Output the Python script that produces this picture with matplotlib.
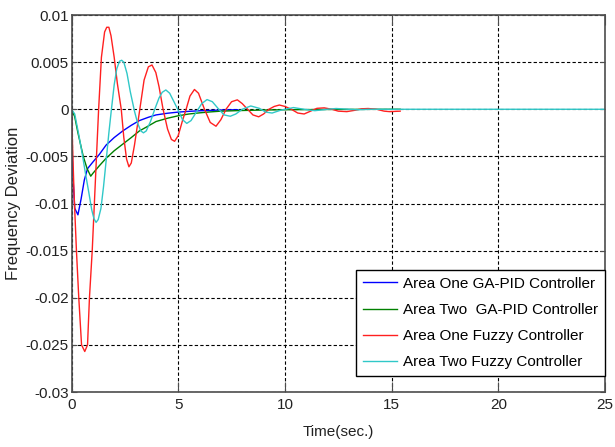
import matplotlib
matplotlib.use("Agg")
import matplotlib.pyplot as plt

plt.rcParams['font.family'] = ['Liberation Sans', 'DejaVu Sans']

# Area One GA-PID controller (blue)
a1_pid_t = [0, 0.05, 0.15, 0.3, 0.45, 0.6, 0.75, 1.0, 1.3, 1.62, 2.0, 2.4, 2.8, 3.18,
            3.6, 3.96, 4.5, 5.0, 5.5, 6.0, 6.5, 7.0, 7.8]
a1_pid_y = [0, -0.0065, -0.0105, -0.0112, -0.0095, -0.0075, -0.0063, -0.0056, -0.0048,
            -0.0038, -0.003, -0.0023, -0.0017, -0.0012, -0.00085, -0.0006, -0.00042,
            -0.0003, -0.00022, -0.00016, -0.00012, -0.00008, -0.00005]

# Area Two GA-PID controller (green)
a2_pid_t = [0, 0.15, 0.3, 0.42, 0.55, 0.73, 0.9, 1.0, 1.3, 1.62, 2.0, 2.4, 2.8, 3.18,
            3.5, 3.96, 4.5, 4.98, 5.5, 6.0, 6.5, 7.0, 8.0, 9.0, 10.0, 12.0, 15.4]
a2_pid_y = [0, -0.0008, -0.0025, -0.0037, -0.005, -0.0063, -0.0071, -0.0068, -0.006,
            -0.0052, -0.0044, -0.0037, -0.003, -0.0023, -0.0019, -0.0013, -0.00095,
            -0.0007, -0.0005, -0.00038, -0.00028, -0.0002, -0.00013, -0.00008,
            -0.00005, -0.00002, 0]

# Area One fuzzy controller (red)
a1_fz_t = [0, 0.05, 0.12, 0.23, 0.34, 0.47, 0.62, 0.75, 0.84, 0.97, 1.1, 1.2, 1.27, 1.4,
           1.55, 1.65, 1.75, 1.85, 2.0, 2.15, 2.33, 2.45, 2.58, 2.69, 2.8, 2.95, 3.2,
           3.4, 3.6, 3.77, 3.95, 4.1, 4.29, 4.5, 4.68, 4.83, 5.0, 5.2, 5.37, 5.55, 5.76,
           5.95, 6.23, 6.5, 6.77, 7.0, 7.24, 7.5, 7.77, 8.0, 8.25, 8.5, 8.77, 9.0, 9.25,
           9.5, 9.74, 10.0, 10.3, 10.6, 10.9, 11.2, 11.5, 11.84, 12.2, 12.5, 12.9, 13.3,
           13.6, 13.9, 14.3, 14.65, 14.9, 15.4]
a1_fz_y = [0, -0.004, -0.009, -0.015, -0.02, -0.025, -0.0257, -0.025, -0.02, -0.015,
           -0.0085, -0.0035, 0, 0.0055, 0.0082, 0.0087, 0.0087, 0.0078, 0.0055, 0.0027,
           0, -0.003, -0.0053, -0.0061, -0.0057, -0.0038, 0, 0.0031, 0.0045, 0.0047,
           0.0039, 0.0024, 0, -0.0021, -0.0032, -0.0034, -0.0028, -0.0012, 0, 0.0014,
           0.0021, 0.0017, 0, -0.0014, -0.0018, -0.0011, 0, 0.0008, 0.001, 0.0006, 0,
           -0.0006, -0.0008, -0.0005, 0, 0.0003, 0.00045, 0.0003, 0, -0.0004, -0.0005,
           -0.0002, 0.0001, 0.00015, 0, -0.0002, -0.00025, -0.0001, 0.00005, 0.00008, 0,
           -0.0002, -0.00025, -0.0002]

# Area Two fuzzy controller (cyan)
a2_fz_t = [0, 0.15, 0.34, 0.5, 0.66, 0.8, 0.95, 1.05, 1.15, 1.25, 1.38, 1.5, 1.62, 1.75,
           1.87, 2.0, 2.12, 2.25, 2.35, 2.45, 2.6, 2.75, 2.95, 3.1, 3.25, 3.37, 3.5, 3.7,
           3.9, 4.1, 4.25, 4.42, 4.6, 4.8, 5.02, 5.2, 5.4, 5.6, 5.85, 6.1, 6.35, 6.6,
           6.9, 7.15, 7.44, 7.7, 8.0, 8.4, 8.8, 9.1, 9.4, 9.8, 10.4, 10.9, 11.4, 12.0,
           12.4, 13.0, 13.4, 14.0, 15.0, 25.0]
a2_fz_y = [0, -0.0005, -0.0027, -0.0047, -0.0069, -0.0087, -0.0107, -0.0116, -0.012,
           -0.0117, -0.0105, -0.0082, -0.0055, -0.0025, 0, 0.0026, 0.0043, 0.0051,
           0.0052, 0.005, 0.0038, 0.0019, -0.0002, -0.0015, -0.0023, -0.0025, -0.0023,
           -0.0013, 0, 0.0012, 0.0018, 0.00205, 0.0017, 0.0008, -0.0002, -0.0011,
           -0.0015, -0.0012, -0.0003, 0.0006, 0.00103, 0.0008, 0, -0.0006, -0.00074,
           -0.0005, 0, 0.00035, 0.0001, -0.0003, -0.0004, -0.0001, 0.00018, 0, -0.00015,
           0, 0.00008, 0, -0.00005, 0, 0, 0]

legend_labels = ["Area One GA-PID Controller", "Area Two  GA-PID Controller",
                 "Area One Fuzzy Controller", "Area Two Fuzzy Controller"]
x_ticks = [0, 5, 10, 15, 20, 25]
y_ticks = [0.01, 0.005, 0, -0.005, -0.01, -0.015, -0.02, -0.025, -0.03]
y_tick_labels = ["0.01", "0.005", "0", "-0.005", "-0.01", "-0.015", "-0.02", "-0.025", "-0.03"]

fig = plt.figure(figsize=(6.15, 4.47), dpi=100)
ax = fig.add_axes([0.1163, 0.1230, 0.8675, 0.8434])

ax.plot(a1_pid_t, a1_pid_y, color='#0000ff', lw=1.0, label=legend_labels[0])
ax.plot(a2_pid_t, a2_pid_y, color='#008000', lw=1.0, label=legend_labels[1])
ax.plot(a1_fz_t, a1_fz_y, color='#ff2020', lw=1.0, label=legend_labels[2])
ax.plot(a2_fz_t, a2_fz_y, color='#30c8c8', lw=1.0, label=legend_labels[3])

ax.set_xlim(0, 25)
ax.set_ylim(-0.03, 0.01)
ax.set_xticks(x_ticks)
ax.set_yticks(y_ticks)
ax.set_yticklabels(y_tick_labels)
ax.grid(True, color='black', linestyle=(0, (3, 2)), linewidth=0.8)
ax.tick_params(direction='in', top=True, right=True, labelsize=11, colors='#4d4d4d',
               labelcolor='#222222')
ax.tick_params(axis='x', length=7, pad=4)
ax.tick_params(axis='y', length=3.5, pad=2)
for s in ax.spines.values():
    s.set_color('#4d4d4d')
    s.set_linewidth(1.2)

ax.set_xlabel("Time(sec.)", fontsize=11, color='#222222', labelpad=10)
ax.set_ylabel("Frequency Deviation", fontsize=12, color='#222222')
ax.yaxis.set_label_coords(-0.095, 0.5)

leg = ax.legend(loc='lower right', bbox_to_anchor=(1.0, 0.042), fontsize=11,
                frameon=True, fancybox=False, edgecolor='black', framealpha=1,
                handlelength=2.2, handletextpad=0.4, borderpad=0.45, labelspacing=0.8,
                borderaxespad=0)
leg.get_frame().set_linewidth(1.0)

fig.savefig('out.png', dpi=100)
